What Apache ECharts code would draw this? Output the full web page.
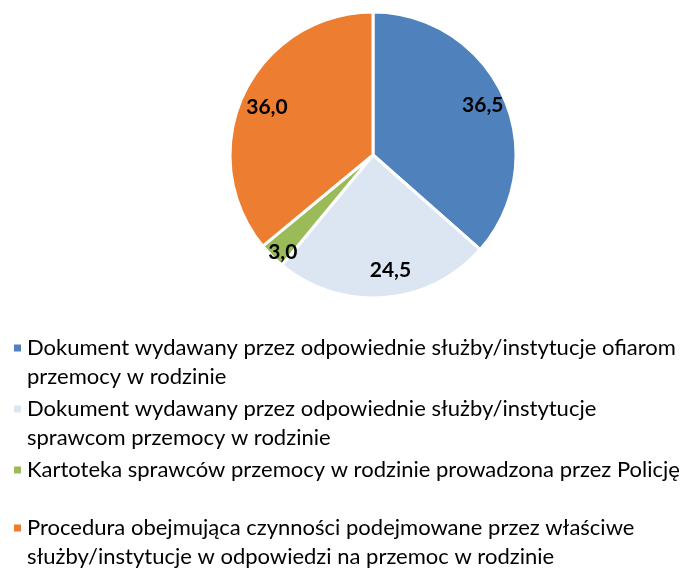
<!DOCTYPE html>
<html>
<head>
<meta charset="utf-8">
<script src="https://cdn.jsdelivr.net/npm/echarts@6/dist/echarts.min.js"></script>
<style>
  html, body { margin: 0; padding: 0; background: #fff; }
  #chart { width: 688px; height: 569px; }
</style>
</head>
<body>
<div id="chart"></div>
<script>
// slice names, values and colours
const categories = [
  'Dokument wydawany przez odpowiednie służby/instytucje ofiarom przemocy w rodzinie',
  'Dokument wydawany przez odpowiednie służby/instytucje sprawcom przemocy w rodzinie',
  'Kartoteka sprawców przemocy w rodzinie prowadzona przez Policję',
  'Procedura obejmująca czynności podejmowane przez właściwe służby/instytucje w odpowiedzi na przemoc w rodzinie'
]
const values = [36.5, 24.5, 3.0, 36.0]
const colors = ['#4F81BD', '#DCE6F2', '#9BBB59', '#ED7D31']
// how the legend text wraps in the original
const legendLines = [
  ['Dokument wydawany przez odpowiednie służby/instytucje ofiarom', 'przemocy w rodzinie'],
  ['Dokument wydawany przez odpowiednie służby/instytucje', 'sprawcom przemocy w rodzinie'],
  ['Kartoteka sprawców przemocy w rodzinie prowadzona przez Policję'],
  ['Procedura obejmująca czynności podejmowane przez właściwe', 'służby/instytucje w odpowiedzi na przemoc w rodzinie']
]
const legendTops = [348, 409, 470, 528]

const chart = echarts.init(document.getElementById('chart'))
const lineH = 29
const fontFamily = 'Lato, "Open Sans", sans-serif'

const pieData = categories.map((name, i) => ({
  name,
  value: values[i],
  itemStyle: { color: colors[i] }
}))

// small nudges so the labels sit where Excel's "best fit" put them
const labelNudge = [[0, 0], [8, -5], [-5, 12], [3, 4]]

// one legend per entry so the marker sits on the first line of wrapped text
const legends = categories.map((name, i) => {
  const lines = legendLines[i]
  const text = lines.length > 1 ? '\n' + lines.join('\n') : lines[0]
  const offset = lines.length > 1 ? lineH * 1.5 : lineH / 2
  return {
    left: 12,
    top: legendTops[i] - offset,
    padding: 0,
    orient: 'vertical',
    icon: 'rect',
    itemWidth: 9,
    itemHeight: 9,
    selectedMode: false,
    data: [{ name, itemStyle: { color: colors[i] } }],
    formatter: () => text,
    textStyle: {
      fontFamily,
      fontSize: 22,
      lineHeight: lineH,
      color: '#000'
    }
  }
})

const option = {
  animation: false,
  legend: legends,
  series: [
    {
      type: 'pie',
      center: [373, 155],
      radius: 143,
      startAngle: 90,
      clockwise: true,
      data: pieData,
      itemStyle: { borderColor: '#fff', borderWidth: 3 },
      label: { show: false },
      labelLine: { show: false },
      emphasis: { disabled: true }
    },
    {
      // transparent ring used only to place labels further out
      type: 'pie',
      center: [373, 155],
      radius: [92, 143],
      startAngle: 90,
      clockwise: true,
      silent: true,
      data: pieData.map((d, i) => ({
        name: d.name,
        value: d.value,
        itemStyle: { color: 'transparent' },
        label: { offset: labelNudge[i] }
      })),
      itemStyle: { borderWidth: 0 },
      label: {
        show: true,
        position: 'inside',
        formatter: p => p.value.toFixed(1).replace('.', ','),
        fontFamily,
        fontWeight: 'bold',
        fontSize: 21,
        color: '#000'
      },
      labelLine: { show: false },
      emphasis: { disabled: true }
    }
  ]
}

chart.setOption(option)
</script>
</body>
</html>
